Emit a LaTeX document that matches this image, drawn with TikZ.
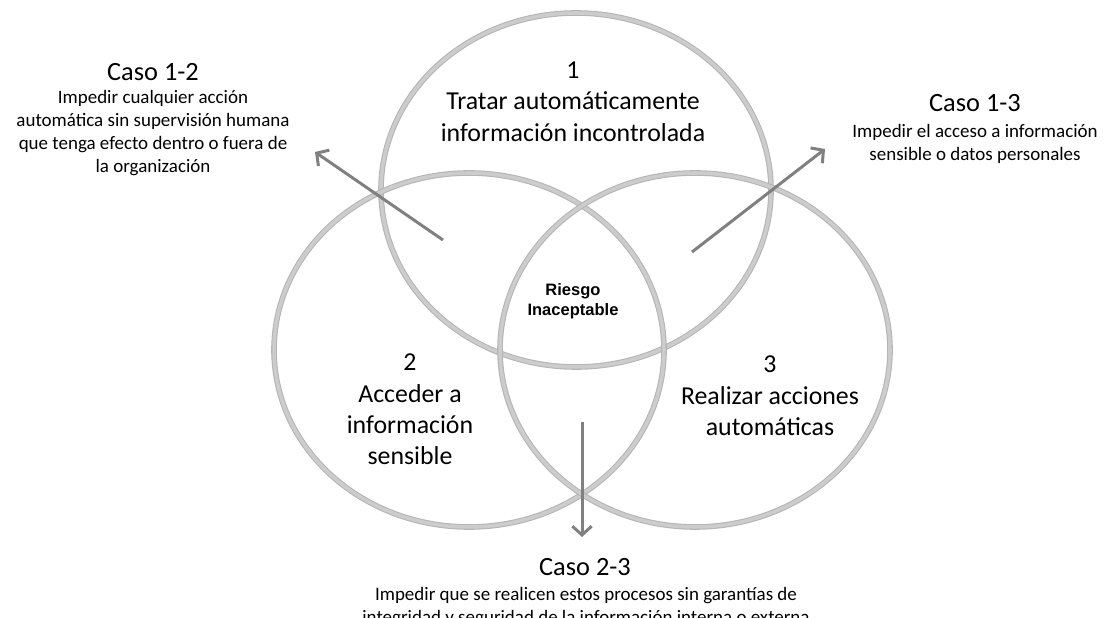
\documentclass[tikz,border=0pt]{standalone}
\usepackage{fontspec}
\setmainfont{Carlito}
\newfontfamily\arialfont{Liberation Sans}
\usetikzlibrary{arrows.meta}
\tikzstyle{ring}=[draw=gray!40,line width=2pt,preaction={draw=gray!58,line width=3.2pt}]
\tikzstyle{circtext}=[align=center,inner sep=0pt,font=\fontsize{14.7}{17.9}\selectfont]
\tikzstyle{casetitle}=[inner sep=0pt,font=\fontsize{15}{18}\selectfont]
\tikzstyle{casedesc}=[align=center,inner sep=0pt,font=\fontsize{10.8}{13.1}\selectfont]
\tikzstyle{arrowline}=[draw=black!50,line width=1.7pt,-{Straight Barb[length=5pt,width=11pt]}]

\begin{document}
\begin{tikzpicture}
\useasboundingbox (0, 0) rectangle (22.08, 12.36);
\draw[ring] (11.52, 8.56) ellipse (3.9 and 3.54);
\draw[ring] (9.38, 5.36) ellipse (3.9 and 3.54);
\draw[ring] (13.90, 5.36) ellipse (3.9 and 3.54);
\node[circtext] at (11.46, 10.33) (uno) {1\\Tratar automáticamente\\información incontrolada};
\node[circtext] at (8.2, 4.17) (dos) {2\\Acceder a\\información\\sensible};
\node[circtext] at (15.4, 4.44) (tres) {3\\Realizar acciones\\automáticas};
\node[align=center,inner sep=0pt,font=\arialfont\bfseries\fontsize{9.4}{11.4}\selectfont] at (11.46, 6.34) (riesgo) {Riesgo\\Inaceptable};
\node[casetitle] at (3.06, 10.92) (caso12) {Caso 1-2};
\node[casedesc] at (3.06, 9.70) (desc12) {Impedir cualquier acción\\automática sin supervisión humana\\que tenga efecto dentro o fuera de\\la organización};
\node[casetitle] at (19.5, 10.3) (caso13) {Caso 1-3};
\node[casedesc] at (19.5, 9.49) (desc13) {Impedir el acceso a información\\sensible o datos personales};
\node[casetitle] at (11.7, 1.02) (caso23) {Caso 2-3};
\node[casedesc] at (11.72, 0.22) (desc23) {Impedir que se realicen estos procesos sin garantías de\\integridad y seguridad de la información interna o externa};
\coordinate (s12) at (8.86, 7.56);
\coordinate (t12) at (6.30, 9.32);
\coordinate (s13) at (13.84, 7.32);
\coordinate (t13) at (16.5, 9.38);
\coordinate (s23) at (11.64, 3.92);
\coordinate (t23) at (11.64, 1.62);
\draw[arrowline] (s12) -- (t12);
\draw[arrowline] (s13) -- (t13);
\draw[arrowline] (s23) -- (t23);
\end{tikzpicture}
\end{document}
